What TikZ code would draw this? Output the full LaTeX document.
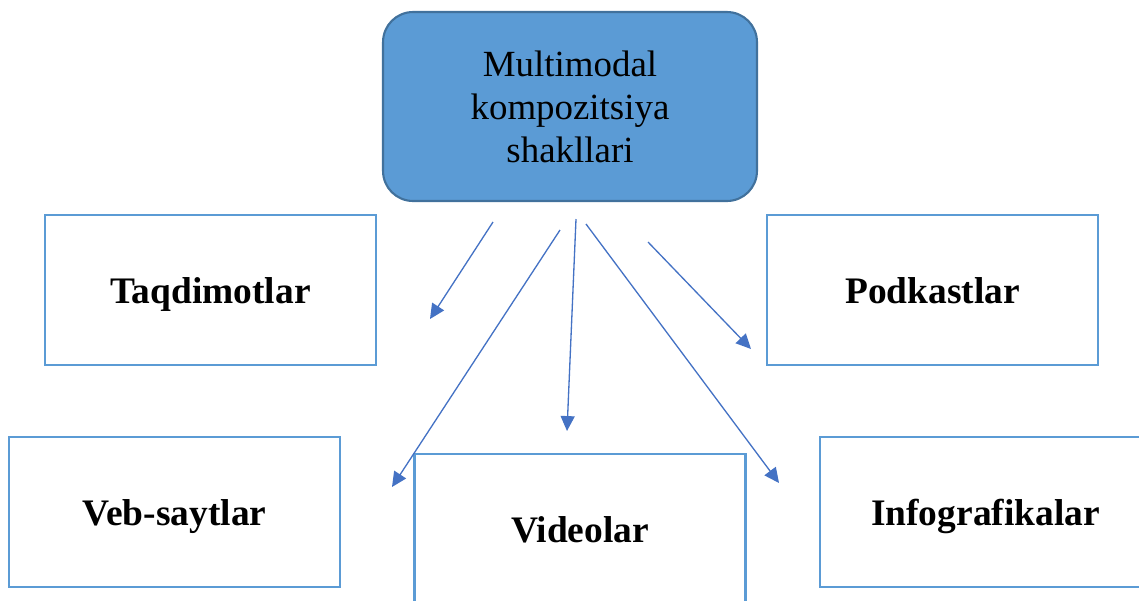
\documentclass[tikz,border=0pt]{standalone}
\usepackage{fontspec}
\setmainfont{Liberation Serif}
\usetikzlibrary{positioning,shapes,arrows.meta}

\definecolor{boxblue}{HTML}{5B9BD5}
\definecolor{edgeblue}{HTML}{41719C}
\definecolor{arrowblue}{HTML}{4472C4}

\tikzset{
  formbox/.style={draw=boxblue, line width=1.2pt, minimum width=6.62cm, minimum height=3cm, text height=15.8pt, text depth=0pt, font=\fontsize{21.3}{24}\selectfont\bfseries},
  formarrow/.style={draw=arrowblue, line width=0.75pt, -{Triangle[length=8.5pt,width=8pt]}}
}

\begin{document}
\begin{tikzpicture}[x=0.02cm,y=-0.02cm]
\useasboundingbox (0,0) rectangle (1139,600);
\node[draw=edgeblue, fill=boxblue, line width=1.2pt, rounded corners=0.6cm, minimum width=7.48cm, minimum height=3.78cm, align=center, font=\fontsize{21}{24.4}\selectfont] (main) at (570,106.5) {Multimodal\\kompozitsiya\\shakllari};
\node[formbox] (taqdimot) at (210.5,290) {Taqdimotlar};
\node[formbox] (podkast) at (932.5,290) {Podkastlar};
\node[formbox] (vebsayt) at (174.5,512) {Veb-saytlar};
\node[formbox] (video) at (580,529) {Videolar};
\node[formbox] (infograf) at (985.5,512) {Infografikalar};
% arrows start and end in the free space between the boxes
\coordinate (s1) at (493,222); \coordinate (e1) at (430,319);
\coordinate (s2) at (560,230); \coordinate (e2) at (392,487);
\coordinate (s3) at (576,219); \coordinate (e3) at (567,431);
\coordinate (s4) at (586,224); \coordinate (e4) at (779,483);
\coordinate (s5) at (648,242); \coordinate (e5) at (751,349);
\draw[formarrow] (s1) -- (e1);
\draw[formarrow] (s2) -- (e2);
\draw[formarrow] (s3) -- (e3);
\draw[formarrow] (s4) -- (e4);
\draw[formarrow] (s5) -- (e5);
\end{tikzpicture}
\end{document}
